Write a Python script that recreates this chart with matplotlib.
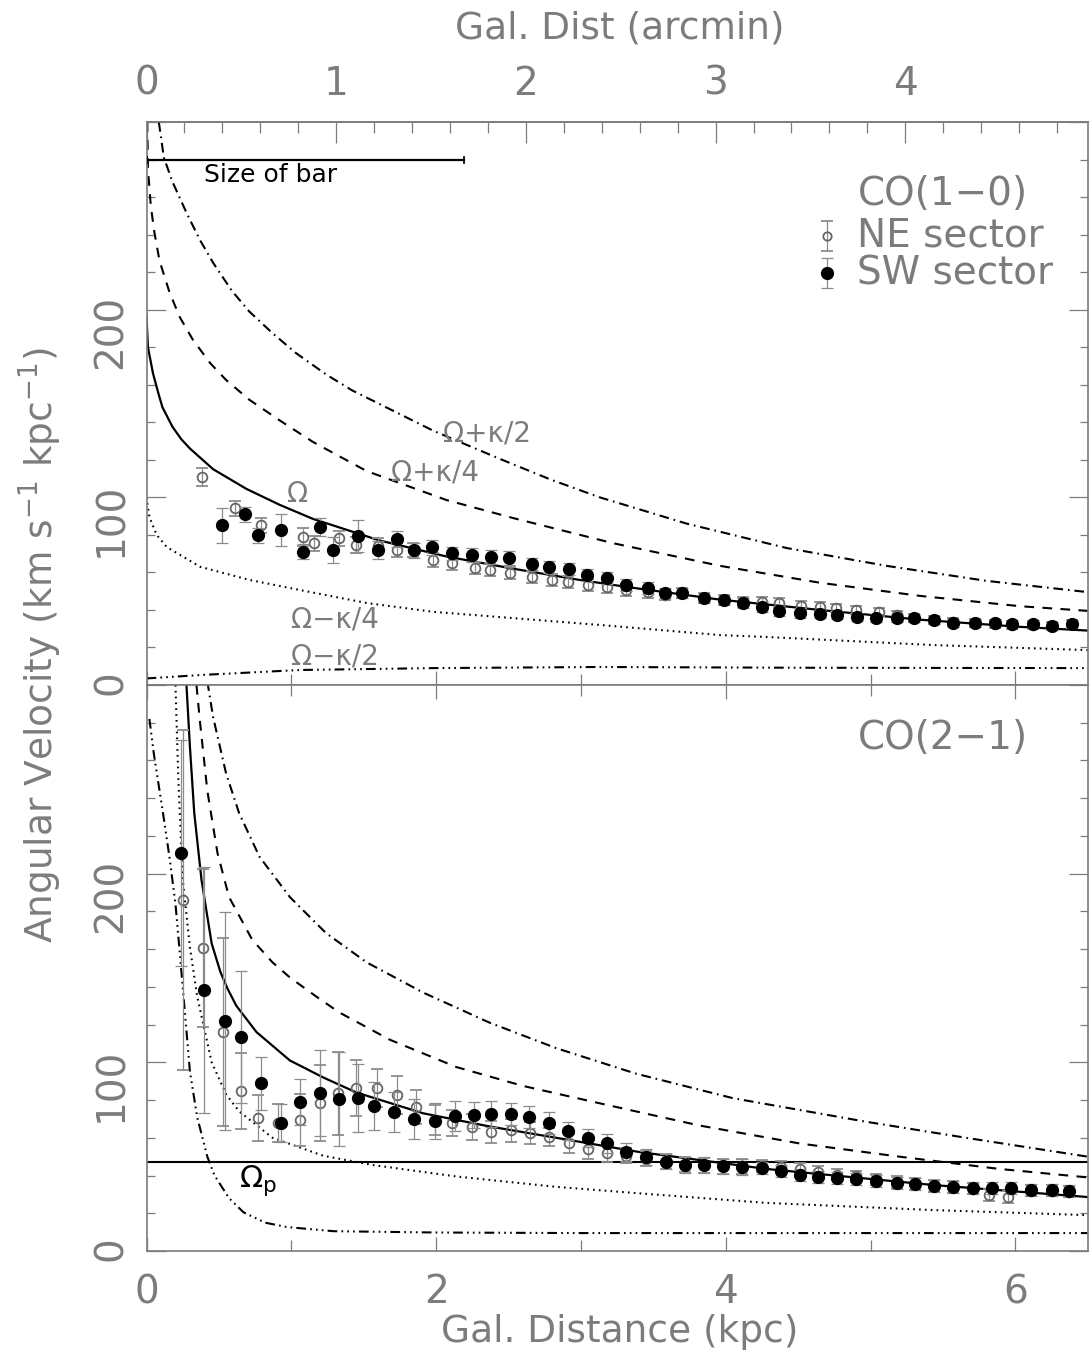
import numpy as np
import matplotlib
matplotlib.use("Agg")
import matplotlib.pyplot as plt
from matplotlib.ticker import FixedLocator, FuncFormatter

plt.rcParams['font.family'] = ['DejaVu Sans']
plt.rcParams['mathtext.fontset'] = 'dejavusans'
plt.rcParams['lines.scale_dashes'] = False

GREY = '#7c7c7c'
KPC_PER_ARCMIN = 1.31
XMAX = 6.5

# ---------------- CO(1-0): frequency curves (kpc, km s-1 kpc-1)
omega_10_r = [0.0, 0.005, 0.01, 0.045, 0.08, 0.11, 0.18, 0.24, 0.30, 0.46, 0.69, 0.92,
              1.15, 1.61, 2.07, 2.53, 2.99, 3.34, 3.96, 4.65, 5.34, 6.03, 6.5]
omega_10_v = [197, 188, 180, 166, 156, 148, 137.5, 131, 126, 115, 104.5, 96,
              88.5, 77, 68.5, 62, 56, 52, 45.5, 40, 34.8, 31, 29]
pk4_10_r = [0.005, 0.01, 0.03, 0.055, 0.09, 0.16, 0.23, 0.32, 0.44, 0.55, 0.71, 0.92,
            1.15, 1.52, 2.07, 2.53, 3.22, 3.96, 4.65, 5.34, 6.03, 6.5]
pk4_10_v = [300, 275, 255, 241, 226, 209, 196, 184, 171.5, 162.5, 152, 141,
            129.5, 114, 98.6, 89, 75.6, 63.5, 54.5, 47.5, 42, 39.5]
pk2_10_r = [0.085, 0.12, 0.18, 0.28, 0.37, 0.46, 0.59, 0.71, 0.87, 1.03, 1.24, 1.42,
            1.98, 2.44, 2.79, 3.13, 3.73, 4.42, 5.11, 5.80, 6.5]
pk2_10_v = [300, 281, 268, 251, 237, 225, 210, 199, 187.5, 177, 165.5, 157,
            135.5, 120.5, 109.5, 100, 86, 73, 63.5, 55.5, 49.5]
mk4_10_r = [0.0, 0.02, 0.07, 0.14, 0.37, 0.71, 1.06, 1.52, 1.98, 3.13, 3.96, 4.28, 5.43, 6.5]
mk4_10_v = [100, 89.5, 80, 73.5, 63, 56, 50.6, 43.7, 39, 32, 26.6, 25.6, 21.3, 18.6]
mk2_10_r = [0.0, 0.37, 1.06, 1.98, 3.13, 4.5, 6.5]
mk2_10_v = [3.5, 5.3, 8, 9, 9.6, 9.2, 9]

# CO(1-0) sector averages
ne_10_r = [0.38, 0.61, 0.79, 1.08, 1.16, 1.33, 1.45, 1.60, 1.73, 1.84, 1.98, 2.11, 2.27, 2.37, 2.51,
           2.66, 2.80, 2.91, 3.05, 3.18, 3.31, 3.46, 3.58, 3.70, 3.85, 3.99, 4.12, 4.25, 4.37, 4.52,
           4.65, 4.76, 4.90, 5.06, 5.18, 5.30, 5.44, 5.57, 5.72, 5.86, 5.98, 6.12, 6.25, 6.39]
ne_10_v = [110.8, 94.3, 85.2, 78.9, 75.6, 78.3, 74.6, 74.1, 71.9, 71.9, 66.6, 65, 62.3, 61.3, 59.7,
           57.5, 55.9, 54.9, 53.3, 52.2, 50.6, 49.5, 47.9, 49, 46.3, 45.3, 44.2, 44.2, 43.7, 42,
           41.6, 41, 40, 38.9, 37.3, 35.7, 34.6, 33.5, 33, 32.5, 32, 32, 31.5, 32.5]
ne_10_err = [5, 4, 4, 5, 4, 4, 4, 4, 3.5, 3.5, 3.5, 3.5, 3, 3, 3, 3, 3, 3, 3, 3, 3, 3,
             2.5, 2.5, 2.5, 2.5, 2.5, 2.5, 2.5, 2.5, 2.5, 2, 2, 2, 2, 2, 2, 2, 2, 2, 2, 2, 2, 2]
sw_10_r = [0.52, 0.68, 0.77, 0.93, 1.08, 1.20, 1.29, 1.46, 1.60, 1.73, 1.85, 1.97, 2.11, 2.25, 2.38,
           2.50, 2.66, 2.78, 2.92, 3.04, 3.18, 3.31, 3.46, 3.58, 3.70, 3.85, 3.99, 4.12, 4.25, 4.37,
           4.51, 4.65, 4.77, 4.91, 5.04, 5.18, 5.30, 5.44, 5.57, 5.72, 5.86, 5.98, 6.12, 6.25, 6.39]
sw_10_v = [85.2, 91.1, 79.9, 82.6, 70.9, 84.2, 71.9, 79.4, 71.9, 77.8, 71.9, 73.5, 70.3, 69.3, 68.2,
           67.7, 64.5, 62.9, 61.8, 58.6, 57, 53.3, 51.7, 49, 49, 46.3, 45.3, 43.7, 41.6, 39.4,
           38.4, 37.8, 37.3, 36.2, 35.7, 35.7, 35.7, 34.6, 33, 33, 33, 32.5, 32.5, 31.4, 32.5]
sw_10_err = [9.3, 4, 4, 8.5, 4, 5, 7, 8.5, 5, 4, 4, 4, 3.5, 3.5, 3.5, 3.5, 3, 3, 3, 3,
             3, 3, 3, 2.5, 2.5, 2.5, 2.5, 2.5, 2.5, 2.5, 2.5, 2, 2, 2, 2, 2, 2, 2, 2, 2,
             2, 2, 2, 2, 2]

# ---------------- CO(2-1): frequency curves
omega_21_r = [0.276, 0.30, 0.33, 0.38, 0.45, 0.51, 0.56, 0.62, 0.76, 0.99, 1.22, 1.45,
              1.91, 2.37, 2.83, 3.40, 4.28, 5.43, 6.5]
omega_21_v = [300, 267, 232, 196.6, 163, 148, 139, 130, 116, 101, 92, 84,
              73, 66, 60, 52.5, 43.5, 35, 28.6]
pk4_21_r = [0.345, 0.37, 0.42, 0.49, 0.57, 0.73, 0.87, 0.99, 1.17, 1.33, 1.68, 2.14,
            2.60, 3.06, 3.38, 3.82, 4.51, 5.20, 5.89, 6.5]
pk4_21_v = [300, 280, 244, 211, 187.6, 165, 153, 145, 135, 126.5, 112, 97.5,
            87.5, 79.5, 74, 66.5, 57, 50, 43.5, 39]
pk2_21_r = [0.42, 0.46, 0.55, 0.64, 0.78, 0.99, 1.24, 1.52, 1.91, 2.37, 2.83, 3.38,
            4.05, 4.97, 5.66, 6.5]
pk2_21_v = [302, 283, 253, 232, 209, 187.6, 168.5, 153, 137, 121, 107.5, 94,
            81, 68.5, 60, 50]
mk4_21_r = [0.20, 0.22, 0.25, 0.30, 0.35, 0.45, 0.55, 0.64, 0.87, 1.22, 1.56, 2.14,
            2.83, 3.38, 4.28, 5.43, 6.5]
mk4_21_v = [300, 250, 197, 161, 135, 100, 83, 74, 60, 50.5, 45.6, 39.5,
            34, 30.7, 25.5, 21.7, 19]
mk2_21_r = [0.02, 0.05, 0.09, 0.12, 0.16, 0.20, 0.23, 0.27, 0.30, 0.35, 0.42, 0.47,
            0.57, 0.67, 0.82, 0.97, 1.29, 2.0, 3.0, 4.5, 6.5]
mk2_21_v = [282, 264, 244, 229, 208, 184, 158, 122, 95, 71, 50, 40,
            28, 20.5, 15, 12.7, 10.5, 9.8, 9.5, 9.5, 9.5]
omega_p = 47

# CO(2-1) sector averages
ne_21_r = [0.25, 0.39, 0.53, 0.65, 0.77, 0.91, 1.06, 1.20, 1.32, 1.45, 1.59, 1.73, 1.86, 1.99, 2.11,
           2.25, 2.38, 2.52, 2.65, 2.78, 2.92, 3.05, 3.18, 3.31, 3.45, 3.59, 3.72, 3.85, 3.98, 4.11,
           4.25, 4.38, 4.51, 4.64, 4.77, 4.90, 5.04, 5.18, 5.31, 5.44, 5.57, 5.71, 5.82, 5.95, 6.11,
           6.25, 6.37]
ne_21_v = [186, 160.6, 116, 84.8, 70.5, 67.8, 69.4, 78.4, 83.7, 86.4, 86.4, 82.7, 76.3, 69.4, 67.8,
           65.7, 63, 64, 62.5, 60.4, 57.2, 54, 52, 50.5, 49, 47.5, 46, 45.5, 45, 45,
           45, 44.5, 43.5, 42, 40.5, 39.5, 38, 36.5, 35.5, 34.5, 34, 33, 29.7, 28.6, 32,
           32, 31.5]
ne_21_err = [90, 42, 50, 20, 12, 10, 14, 20, 22, 15, 10, 10, 9, 8, 7, 7, 6, 6, 6, 5,
             5, 5, 5, 4, 4, 4, 4, 4, 4, 4, 3, 3, 3, 3, 3, 3, 3, 3, 3, 3,
             3, 3, 3, 3, 3, 3, 3]
sw_21_r = [0.24, 0.40, 0.54, 0.65, 0.79, 0.93, 1.06, 1.20, 1.33, 1.46, 1.57, 1.71, 1.85, 1.99, 2.13,
           2.26, 2.38, 2.52, 2.64, 2.78, 2.91, 3.05, 3.18, 3.31, 3.45, 3.59, 3.72, 3.85, 3.98, 4.11,
           4.25, 4.38, 4.51, 4.64, 4.77, 4.90, 5.04, 5.18, 5.31, 5.44, 5.57, 5.71, 5.84, 5.97, 6.11,
           6.25, 6.37]
sw_21_v = [211, 138.3, 121.9, 113.4, 89, 67.8, 79, 83.7, 80.5, 81, 76.8, 73.7, 69.9, 68.9, 71.5,
           72, 72.6, 72.6, 71, 67.8, 63.6, 59.9, 57.2, 52.5, 49.8, 47.3, 45.6, 45.6, 45, 44.5,
           44, 42.4, 40.3, 39.2, 38.7, 38.2, 37.1, 36, 35.5, 34.4, 33.9, 33.4, 33.4, 33.4, 32.3,
           32.3, 31.8]
sw_21_err = [60, 65, 58, 35, 14, 10, 12, 23, 25, 18, 12.6, 10.6, 10.5, 9.5, 8, 7, 7, 6, 6, 6,
             5, 5, 5, 5, 4, 4, 4, 4, 4, 4, 3, 3, 3, 3, 3, 3, 3, 3, 3, 3,
             3, 3, 3, 3, 3, 3, 3]

# line styles (in points)
LS_DASH = (0, (7, 6))
LS_DASHDOT = (0, (7, 3.5, 1.2, 3.5))
LS_DOT = (0, (1.2, 3))
LS_DASH3DOT = (0, (7, 3, 1.2, 3, 1.2, 3, 1.2, 3))


def draw_curves(ax, curves):
    for r, v, ls, lw in curves:
        ax.plot(r, v, color='black', ls=ls, lw=lw, zorder=2)


def draw_sectors(ax, ne, sw):
    ax.errorbar(ne[0], ne[1], yerr=ne[2], fmt='o', ms=7, mfc='none', mec='#666666', mew=1.3,
                ecolor='#8c8c8c', elinewidth=0.9, capsize=4, capthick=0.9, zorder=4)
    ax.errorbar(sw[0], sw[1], yerr=sw[2], fmt='o', ms=8.5, mfc='black', mec='black',
                ecolor='#8c8c8c', elinewidth=0.9, capsize=4, capthick=0.9, zorder=5)


def style_axes(ax, bottom_labels):
    ax.set_xlim(0, XMAX)
    ax.set_ylim(0, 300)
    for s in ax.spines.values():
        s.set_color(GREY)
        s.set_linewidth(1.2)
    ax.yaxis.set_major_locator(FixedLocator([0, 100, 200, 300]))
    ax.yaxis.set_minor_locator(FixedLocator(np.arange(0, 301, 20)))
    ax.yaxis.set_major_formatter(FuncFormatter(lambda v, p: '' if v >= 300 else '%d' % v))
    ax.tick_params(axis='y', which='major', direction='in', length=14, width=0.9, color=GREY,
                   left=True, right=True, labelrotation=90, labelsize=28, labelcolor=GREY, pad=12)
    ax.tick_params(axis='y', which='minor', direction='in', length=6, width=0.9, color=GREY,
                   left=True, right=True)
    ax.xaxis.set_major_locator(FixedLocator([0, 2, 4, 6]))
    ax.xaxis.set_minor_locator(FixedLocator([1, 3, 5]))
    ax.tick_params(axis='x', which='major', direction='in', length=10, width=0.9, color=GREY,
                   bottom=True, labelbottom=bottom_labels,
                   labelsize=28, labelcolor=GREY, pad=16)
    ax.tick_params(axis='x', which='minor', direction='in', length=8, width=0.9, color=GREY,
                   bottom=True)


W, H = 1089, 1355
fig = plt.figure(figsize=(W / 100, H / 100), dpi=100)
x0 = 146.5 / W
wid = (146.5 + XMAX * 144.8) / W - x0
ax1 = fig.add_axes([x0, 1 - 685 / H, wid, 563 / H])
ax2 = fig.add_axes([x0, 1 - 1251 / H, wid, 566 / H])

# upper panel: CO(1-0)
draw_curves(ax1, [
    (omega_10_r, omega_10_v, '-', 1.6),
    (pk4_10_r, pk4_10_v, LS_DASH, 1.5),
    (pk2_10_r, pk2_10_v, LS_DASHDOT, 1.5),
    (mk4_10_r, mk4_10_v, LS_DOT, 1.5),
    (mk2_10_r, mk2_10_v, LS_DASH3DOT, 1.5),
])
draw_sectors(ax1, (ne_10_r, ne_10_v, ne_10_err), (sw_10_r, sw_10_v, sw_10_err))
style_axes(ax1, False)
ax1.tick_params(axis='x', which='both', top=False)

for txt, x, y in [('Ω+κ/2', 2.35, 134), ('Ω+κ/4', 1.99, 113), ('Ω', 1.04, 102),
                  ('Ω−κ/4', 1.30, 35), ('Ω−κ/2', 1.30, 15)]:
    ax1.text(x, y, txt, ha='center', va='center', fontsize=20, color=GREY, zorder=6)

# bar length marker
ax1.plot([0, 2.19], [280, 280], color='black', lw=1.6, marker='|', ms=6, mew=1.2, zorder=3)
ax1.text(0.40, 272, 'Size of bar', ha='left', va='center', fontsize=18, color='black')

# legend
ax1.text(4.91, 261.6, 'CO(1−0)', ha='left', va='center', fontsize=28, color=GREY)
ax1.errorbar([4.70], [239.5], yerr=[8], fmt='o', ms=6, mfc='none', mec='#666666', mew=1.3,
             ecolor='#8c8c8c', elinewidth=0.9, capsize=4, capthick=0.9, clip_on=False)
ax1.errorbar([4.70], [219.5], yerr=[8], fmt='o', ms=8.5, mfc='black', mec='black',
             ecolor='#8c8c8c', elinewidth=0.9, capsize=4, capthick=0.9, clip_on=False)
ax1.text(4.91, 239.5, 'NE sector', ha='left', va='center', fontsize=28, color=GREY)
ax1.text(4.91, 219.5, 'SW sector', ha='left', va='center', fontsize=28, color=GREY)

# top axis in arcmin
sec = ax1.secondary_xaxis('top', functions=(lambda x: x / KPC_PER_ARCMIN,
                                            lambda x: x * KPC_PER_ARCMIN))
sec.xaxis.set_major_locator(FixedLocator([0, 1, 2, 3, 4]))
sec.xaxis.set_minor_locator(FixedLocator(np.arange(0, 5.01, 0.2)))
sec.tick_params(which='major', direction='in', length=15, width=0.9, color=GREY,
                labelsize=28, labelcolor=GREY, pad=14)
sec.tick_params(which='minor', direction='in', length=8, width=0.9, color=GREY)
sec.spines['top'].set_color(GREY)
sec.spines['top'].set_linewidth(1.2)

# lower panel: CO(2-1)
draw_curves(ax2, [
    (omega_21_r, omega_21_v, '-', 1.6),
    (pk4_21_r, pk4_21_v, LS_DASH, 1.5),
    (pk2_21_r, pk2_21_v, LS_DASHDOT, 1.5),
    (mk4_21_r, mk4_21_v, LS_DOT, 1.5),
    (mk2_21_r, mk2_21_v, LS_DASH3DOT, 1.5),
])
ax2.axhline(omega_p, color='black', lw=1.5, zorder=2)
draw_sectors(ax2, (ne_21_r, ne_21_v, ne_21_err), (sw_21_r, sw_21_v, sw_21_err))
style_axes(ax2, True)
ax2.tick_params(axis='x', which='both', top=True)
ax2.text(0.77, 37.6, r'$\Omega_\mathrm{p}$', ha='center', va='center', fontsize=22, color='black')
ax2.text(4.91, 271.9, 'CO(2−1)', ha='left', va='center', fontsize=28, color=GREY)

fig.text(620 / W, 1 - 1332 / H, 'Gal. Distance (kpc)', ha='center', va='center',
         fontsize=27, color=GREY)
fig.text(620 / W, 1 - 28 / H, 'Gal. Dist (arcmin)', ha='center', va='center',
         fontsize=27, color=GREY)
fig.text(40 / W, 1 - 645 / H, 'Angular Velocity (km s$^{-1}$ kpc$^{-1}$)', rotation=90,
         ha='center', va='center', fontsize=27, color=GREY)

fig.savefig('out.png', dpi=100)
